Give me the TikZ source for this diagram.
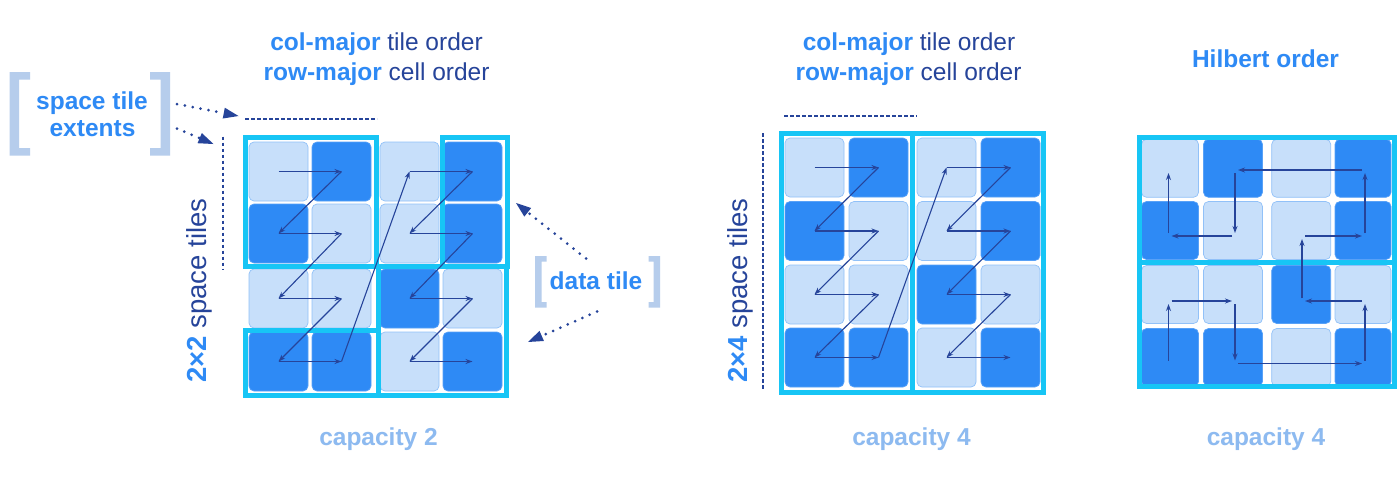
\documentclass[tikz,border=0pt]{standalone}
\usepackage{fontspec}
\setmainfont{Liberation Sans}
\usetikzlibrary{arrows.meta}
\definecolor{cyanf}{HTML}{17C5F5}
\definecolor{darkc}{HTML}{2E8AF5}
\definecolor{lightc}{HTML}{C7DFFA}
\definecolor{navy}{HTML}{26449A}
\definecolor{brt}{HTML}{2E8AF5}
\definecolor{capc}{HTML}{8DBAF0}
\definecolor{brk}{HTML}{B6CDEC}
\begin{document}
\begin{tikzpicture}[x=1pt,y=-1pt,
  cellbase/.style={rounded corners=5pt, line width=0.7pt, inner sep=0pt, minimum width=59pt, minimum height=59pt},
  cellL/.style={cellbase, fill=lightc, draw=lightc!65!darkc},
  cellD/.style={cellbase, fill=darkc, draw=darkc!80!white},
  flow/.style={navy, line width=1.1pt, -{Stealth[length=7pt,width=5pt]}},
  hflow/.style={flow, shorten >=3pt, shorten <=3pt},
  frame/.style={draw=cyanf, line width=5pt},
  extent/.style={navy, line width=1.8pt, dash pattern=on 3.5pt off 2.5pt},
  pointer/.style={navy, line width=3pt, line cap=round, dash pattern=on 0pt off 8pt,
    -{Triangle[length=15pt,width=11pt,line width=0pt]}},
  txt/.style={font=\fontsize{24.5}{28}\selectfont, anchor=base, inner sep=0pt},
  btxt/.style={txt, font=\fontsize{24.5}{28}\selectfont\bfseries},
  vtxt/.style={font=\fontsize{27.5}{30}\selectfont, anchor=base west, inner sep=0pt, rotate=90}
]
\useasboundingbox (0,0) rectangle (1400,477);
\fill[white] (0,0) rectangle (1400,477);

% ---------- titles ----------
\node[txt] (t1a) at (376.5,50) {{\color{brt}\bfseries col-major} {\color{navy}tile order}};
\node[txt] (t1b) at (376.5,80) {{\color{brt}\bfseries row-major} {\color{navy}cell order}};
\node[txt] (t2a) at (909,50) {{\color{brt}\bfseries col-major} {\color{navy}tile order}};
\node[txt] (t2b) at (908.5,80) {{\color{brt}\bfseries row-major} {\color{navy}cell order}};
\node[btxt, text=brt] (t3) at (1265.5,67) {Hilbert order};

\node[btxt, text=capc] (c1) at (378.5,445) {capacity 2};
\node[btxt, text=capc] (c2) at (911.5,445) {capacity 4};
\node[btxt, text=capc] (c3) at (1266,445) {capacity 4};

% ---------- left annotations ----------
\fill[brk] (9.5,72) rectangle (19,155.5) (9.5,72) rectangle (30,79.5) (9.5,148) rectangle (30,155.5);
\fill[brk] (160.5,72) rectangle (170,155.5) (150,72) rectangle (170,79.5) (150,148) rectangle (170,155.5);
\node[btxt, text=brt] (ste1) at (92,109) {space tile};
\node[btxt, text=brt] (ste2) at (92.5,136.5) {extents};

\fill[brk] (535,256) rectangle (541.5,307.5) (535,256) rectangle (546.5,261.5) (535,302) rectangle (546.5,307.5);
\fill[brk] (653.5,256) rectangle (660,307.5) (648.5,256) rectangle (660,261.5) (648.5,302) rectangle (660,307.5);
\node[btxt, text=brt] (dt) at (596,289) {data tile};

\coordinate (s1) at (177,104);   \coordinate (s1t) at (238.5,116);
\coordinate (s2) at (177,128.5); \coordinate (s2t) at (213.5,144);
\coordinate (d1) at (586,258.5); \coordinate (d1t) at (516,203);
\coordinate (d2) at (597,311.5); \coordinate (d2t) at (528,342);
\draw[pointer] (s1) -- (s1t);
\draw[pointer] (s2) -- (s2t);
\draw[pointer] (d1) -- (d1t);
\draw[pointer] (d2) -- (d2t);

% ---------- diagram 1 ----------
\foreach \r/\y/\ta/\tb/\tc/\td in {1/171.5/L/D/L/D, 2/233.5/D/L/L/D, 3/298.5/L/L/D/L, 4/361.5/D/D/L/D}{
  \node[cell\ta] (a\r1) at (278.5,\y) {};
  \node[cell\tb] (a\r2) at (341.5,\y) {};
  \node[cell\tc] (a\r3) at (409.5,\y) {};
  \node[cell\td] (a\r4) at (472.5,\y) {};
}
\draw[frame] (245,137.5) rectangle (376,266.5);
\draw[frame] (442,137.5) rectangle (507,266.5);
\draw[frame] (245,330) rectangle (378,395.5);
\draw[frame] (378,266.5) rectangle (506,395.5);
\foreach \p/\q in {11/12,12/21,21/22,22/31,31/32,32/41,41/42,42/13,13/14,14/23,23/24,24/33,33/34,34/43,43/44}
  \draw[flow] (a\p.center) -- (a\q.center);

\coordinate (e1a) at (245,119.3); \coordinate (e1b) at (377,119.3);
\coordinate (e1c) at (223,136.5); \coordinate (e1d) at (223,269);
\draw[extent] (e1a) -- (e1b);
\draw[extent] (e1c) -- (e1d);
\node[vtxt] (v1) at (206.5,383) {{\color{brt}\bfseries 2×2} {\color{navy}space tiles}};

% ---------- diagram 2 ----------
\foreach \r/\y/\ta/\tb/\tc/\td in {1/167.5/L/D/L/D, 2/231/D/L/L/D, 3/294.5/L/L/D/L, 4/357.5/D/D/L/D}{
  \node[cell\ta] (b\r1) at (814.5,\y) {};
  \node[cell\tb] (b\r2) at (878.5,\y) {};
  \node[cell\tc] (b\r3) at (946.5,\y) {};
  \node[cell\td] (b\r4) at (1010.5,\y) {};
}
\draw[frame] (781.5,133.5) rectangle (1043.5,392.5);
\draw[frame] (912.7,133.5) -- (912.7,392.5);
\foreach \p/\q in {11/12,12/21,21/22,22/31,31/32,32/41,41/42,42/13,13/14,14/23,23/24,24/33,33/34,34/43,43/44}
  \draw[flow] (b\p.center) -- (b\q.center);

\coordinate (e2a) at (784,115.7); \coordinate (e2b) at (917,115.7);
\coordinate (e2c) at (762.7,133); \coordinate (e2d) at (762.7,390);
\draw[extent] (e2a) -- (e2b);
\draw[extent] (e2c) -- (e2d);
\node[vtxt] (v2) at (747.5,383) {{\color{brt}\bfseries 2×4} {\color{navy}space tiles}};

% ---------- diagram 3 (Hilbert) ----------
\foreach \r/\y/\ta/\tb/\tc/\td in {1/168.3/L/D/L/D, 2/230.5/D/L/L/D, 3/294.5/L/L/D/L, 4/357.5/D/D/L/D}{
  \node[cell\ta, minimum width=57pt, minimum height=58pt] (h\r1) at (1170,\y) {};
  \node[cell\tb, minimum width=59pt, minimum height=58pt] (h\r2) at (1233,\y) {};
  \node[cell\tc, minimum width=59pt, minimum height=58pt] (h\r3) at (1301.2,\y) {};
  \node[cell\td, minimum width=56pt, minimum height=58pt] (h\r4) at (1363,\y) {};
}
\draw[frame] (1139.2,137.5) rectangle (1394.2,386.8);
\draw[frame] (1139.2,262) -- (1394.2,262);
\foreach \r/\y in {1/170,2/236,3/301,4/363.5}
  \foreach \c/\x in {1/1168.5,2/1235,3/1302,4/1365}
    \coordinate (p\r\c) at (\x,\y);
\foreach \p/\q in {41/31,31/32,32/42,42/44,44/34,34/33,33/23,23/24,24/14,14/12,12/22,22/21,21/11}
  \draw[hflow] (p\p) -- (p\q);
\end{tikzpicture}
\end{document}
